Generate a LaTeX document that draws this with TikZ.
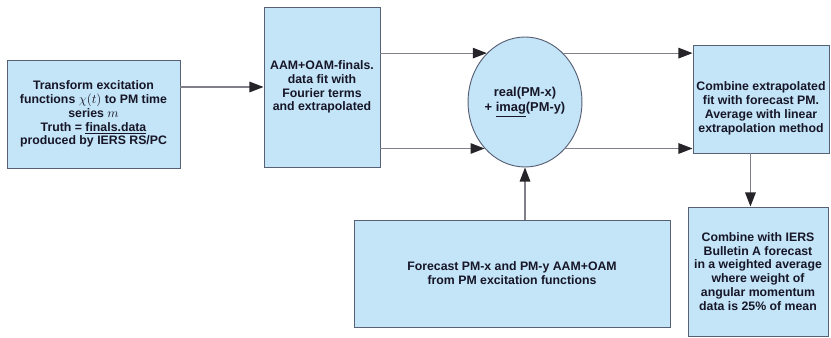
\documentclass[tikz,border=0pt]{standalone}
\usepackage{fontspec}
\setmainfont{Liberation Sans}
\usetikzlibrary{arrows.meta,shapes.geometric,calc}
\definecolor{boxfill}{RGB}{196,228,247}
\definecolor{boxline}{RGB}{88,96,116}
\definecolor{wire}{RGB}{128,128,138}
\definecolor{tip}{RGB}{38,36,40}
\definecolor{ink}{RGB}{22,22,40}

\begin{document}
\begin{tikzpicture}[x=0.3mm,y=-0.3mm,
    box/.style={draw=boxline,fill=boxfill,line width=0.8pt,inner sep=1pt,
      align=center,text=ink,font=\bfseries\fontsize{10.5}{11.8}\selectfont},
    flow/.style={draw=wire,line width=1pt,-{Triangle[length=12pt,width=9pt,color=tip]}}]
      \useasboundingbox (0,0) rectangle (831,338);

      \node[box,minimum width=173*0.3mm,minimum height=108*0.3mm] (transform) at (93.5,114)
        {Transform excitation\\ functions $\chi(t)$ to PM time\\ series $m$\\
         Truth = \underline{finals.data}\\ produced by IERS RS/PC};
      \node[box,minimum width=116*0.3mm,minimum height=160*0.3mm] (fourier) at (322,87)
        {AAM+OAM-finals.\\ data fit with\\ Fourier terms\\ and extrapolated};
      \node[box,ellipse,inner sep=0pt,minimum width=84*0.3mm,minimum height=130*0.3mm,
        font=\bfseries\fontsize{11}{13}\selectfont] (complex) at (525,102)
        {real(PM-x)\\ + \underline{imag}(PM-y)};
      \node[box,minimum width=136*0.3mm,minimum height=108*0.3mm] (combine) at (761,99) {};
      \node[box,draw=none,fill=none] (combinetext) at ([yshift=-8pt]combine.center)
        {Combine extrapolated\\ fit with forecast PM.\\ Average with linear\\ extrapolation method};
      \node[box,minimum width=316*0.3mm,minimum height=107*0.3mm] (forecast) at (512,273.5)
        {Forecast PM-x and PM-y AAM+OAM\\ from PM excitation functions};
      \node[box,minimum width=140*0.3mm,minimum height=129*0.3mm] (bulletin) at (758,271.5)
        {Combine with IERS\\ Bulletin A forecast\\ in a weighted average\\ where weight of\\
         angular momentum\\ data is 25\% of mean};

      \draw[flow] (transform.east |- fourier.west) -- (fourier.west);
      \draw[flow] (fourier.east |- complex.128) -- (complex.128);
      \draw[flow] (fourier.east |- complex.229) -- (complex.229);
      \draw[flow] (complex.52) -- (complex.52 -| combine.west);
      \draw[flow] (complex.311) -- (complex.311 -| combine.west);
      \draw[flow] (complex.south |- forecast.north) -- (complex.south);
      \draw[flow] ([xshift=-9pt]combine.south) -- ([xshift=-9pt]combine.south |- bulletin.north);
    \end{tikzpicture}
\end{document}
